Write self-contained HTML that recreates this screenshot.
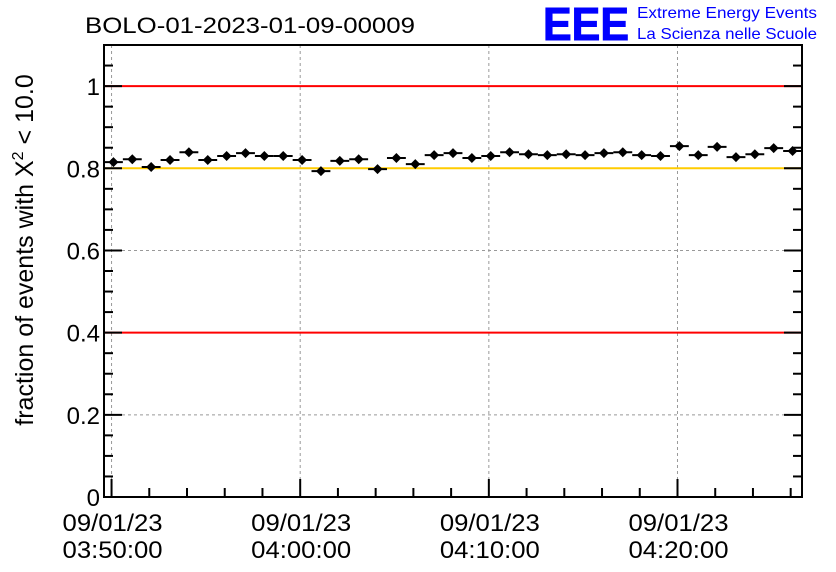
<!DOCTYPE html>
<html><head><meta charset="utf-8"><style>
body{margin:0;background:#fff;}
svg{display:block;font-family:"Liberation Sans",Arial,sans-serif;}
</style></head><body>
<svg id="chart" width="836" height="572">
<text x="85" y="33" font-size="22" fill="#000" textLength="330" lengthAdjust="spacingAndGlyphs">BOLO-01-2023-01-09-00009</text>
<g>
<text x="543" y="40" font-size="46" font-weight="bold" fill="#0000ff" stroke="#0000ff" stroke-width="1" textLength="86" lengthAdjust="spacingAndGlyphs">EEE</text>
<text x="637" y="18" font-size="16" fill="#0000ff" textLength="180" lengthAdjust="spacingAndGlyphs">Extreme Energy Events</text>
<text x="637" y="39" font-size="16" fill="#0000ff" textLength="180" lengthAdjust="spacingAndGlyphs">La Scienza nelle Scuole</text>
</g>
<text transform="translate(33,250) rotate(-90)" text-anchor="middle" font-size="25" fill="#000">fraction of events with Χ<tspan dy="-10" font-size="16">2</tspan><tspan dy="10"> &lt; 10.0</tspan></text>
<g id="grid"></g><g id="refs"></g><g id="axes"></g><g id="marks"></g>
</svg>
<script>
const yTicks=[0,0.2,0.4,0.6,0.8,1];
const yTickLabels=["0","0.2","0.4","0.6","0.8","1"];
const xTickMinutes=[0,10,20,30];
const xTickDates=["09/01/23","09/01/23","09/01/23","09/01/23"];
const xTickTimes=["03:50:00","04:00:00","04:10:00","04:20:00"];
const refLines=[1,0.8,0.4];
const refColors=["#ff0000","#ffcc00","#ff0000"];
const values=[0.815,0.822,0.803,0.820,0.839,0.820,0.830,0.837,0.830,0.830,0.820,0.793,0.818,0.822,0.798,0.825,0.810,0.832,0.837,0.825,0.830,0.839,0.834,0.832,0.834,0.832,0.837,0.839,0.832,0.830,0.854,0.832,0.852,0.827,0.834,0.849,0.842];
const errs=[0.006,0.006,0.006,0.006,0.006,0.006,0.006,0.006,0.006,0.006,0.006,0.006,0.006,0.006,0.006,0.006,0.006,0.006,0.006,0.006,0.006,0.006,0.006,0.006,0.006,0.006,0.006,0.006,0.006,0.006,0.006,0.006,0.006,0.006,0.006,0.006,0.006];
const L=104,R=802,T=45,B=497;
const xMin=-0.4,xMax=36.6,yMin=0,yMax=1.1;
const X=m=>L+(m-xMin)/(xMax-xMin)*(R-L);
const Y=v=>B-(v-yMin)/(yMax-yMin)*(B-T);
const NS="http://www.w3.org/2000/svg";
function mk(p,t,a){const e=document.createElementNS(NS,t);for(const k in a)e.setAttribute(k,a[k]);p.appendChild(e);return e;}
const grid=document.getElementById('grid'),refs=document.getElementById('refs'),axes=document.getElementById('axes'),marks=document.getElementById('marks');
yTicks.forEach((v,i)=>{
 let g=mk(grid,'line',{x1:L,x2:R,y1:Y(v),y2:Y(v),stroke:'#999','stroke-dasharray':'3,3','stroke-width':1});
 
 
 let t=mk(axes,'text',{x:L-4,y:Y(v)+9,'text-anchor':'end','font-size':24});
 t.textContent=yTickLabels[i];
 
 
 mk(axes,'line',{x1:L,x2:L+18,y1:Y(v),y2:Y(v),stroke:'#000','stroke-width':2});
 mk(axes,'line',{x1:R,x2:R-18,y1:Y(v),y2:Y(v),stroke:'#000','stroke-width':2});
});
for(let v=0.05;v<1.1;v+=0.05){if(Math.abs(v*5-Math.round(v*5))<1e-6)continue;
 mk(axes,'line',{x1:L,x2:L+9,y1:Y(v),y2:Y(v),stroke:'#000','stroke-width':2});
 mk(axes,'line',{x1:R,x2:R-9,y1:Y(v),y2:Y(v),stroke:'#000','stroke-width':2});}
xTickMinutes.forEach((m,i)=>{
 let g=mk(grid,'line',{x1:X(m),x2:X(m),y1:T,y2:B,stroke:'#999','stroke-dasharray':'3,3','stroke-width':1});
 
 
 mk(axes,'line',{x1:X(m),x2:X(m),y1:B,y2:B-18,stroke:'#000','stroke-width':2});
 let t=mk(axes,'text',{x:X(m)+1,y:531,'text-anchor':'middle','font-size':24,textLength:100,lengthAdjust:'spacingAndGlyphs'});t.textContent=xTickDates[i];
 
 
 let t2=mk(axes,'text',{x:X(m)+1,y:558,'text-anchor':'middle','font-size':24,textLength:100,lengthAdjust:'spacingAndGlyphs'});t2.textContent=xTickTimes[i];
 
 
});
for(let m=2;m<=36;m+=2){if(m%10==0)continue;mk(axes,'line',{x1:X(m),x2:X(m),y1:B,y2:B-9,stroke:'#000','stroke-width':2});}
refLines.forEach((v,i)=>{
 let l=mk(refs,'line',{x1:L,x2:R,y1:Y(v),y2:Y(v),stroke:refColors[i],'stroke-width':2});
 
 
});
let f=mk(axes,'rect',{x:L,y:T,width:R-L,height:B-T,fill:'none',stroke:'#000','stroke-width':2});


values.forEach((v,i)=>{
 const c=i+0.1,x=X(c),y=Y(v);
 let g=mk(marks,'g',{});
 
 
 mk(g,'line',{x1:X(c-0.5),x2:X(c+0.5),y1:y,y2:y,stroke:'#000','stroke-width':2});
 mk(g,'line',{x1:x,x2:x,y1:Y(v+errs[i]),y2:Y(v-errs[i]),stroke:'#000','stroke-width':2});
 mk(g,'path',{d:`M${x-5},${y}L${x},${y-5}L${x+5},${y}L${x},${y+5}Z`,fill:'#000'});
});
</script>
</body></html>
